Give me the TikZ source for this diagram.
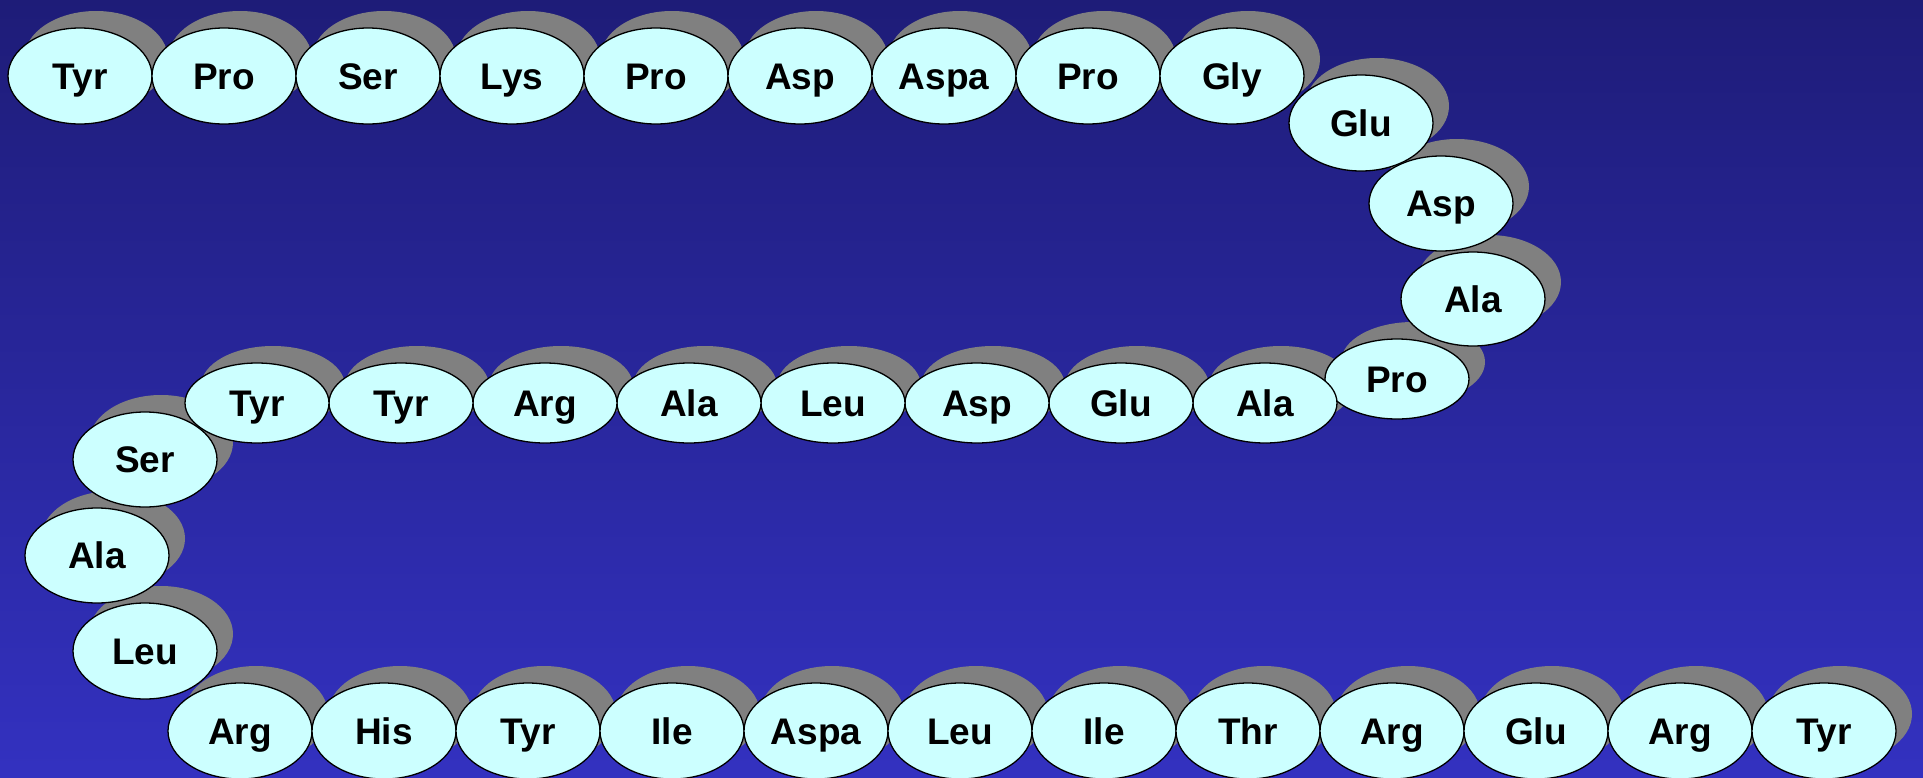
\documentclass[tikz,border=0pt]{standalone}
\usepackage{fontspec}
\setmainfont{Liberation Sans}
\usetikzlibrary{shapes.geometric}
\definecolor{bgtop}{RGB}{30,28,120}
\definecolor{bgbot}{RGB}{51,49,192}
\definecolor{beadfill}{RGB}{204,255,255}
\definecolor{shadowgray}{RGB}{128,128,128}
\tikzset{
  bead/.style={ellipse, draw=black, line width=1.3pt, fill=beadfill,
    minimum width=144pt, inner sep=0pt, outer sep=0pt,
    font=\fontsize{37}{37}\selectfont\bfseries, text height=26.5pt, text depth=0pt},
  beadshadow/.style={ellipse, fill=shadowgray, draw=none,
    minimum width=144pt, inner sep=0pt, outer sep=0pt},
}
\begin{document}
\begin{tikzpicture}[x=1pt,y=-1pt]
\useasboundingbox (0,0) rectangle (1923,777);
\shade[top color=bgtop, bottom color=bgbot] (0,0) rectangle (1923,777);
% bead list: x/y/height/label
\def\beads{80/76/96/Tyr, 224/76/96/Pro, 368/76/96/Ser, 512/76/96/Lys, 656/76/96/Pro, 800/76/96/Asp, 944/76/96/Aspa, 1088/76/96/Pro, 1232/76/96/Gly,
1361/123/96/Glu, 1441/203.5/95/Asp, 1473/299/94/Ala, 1397/379/80/Pro,
1265/403/80/Ala, 1121/403/80/Glu, 977/403/80/Asp, 833/403/80/Leu, 689/403/80/Ala, 545/403/80/Arg, 401/403/80/Tyr, 257/403/80/Tyr,
145/459.5/95/Ser, 97/555.5/95/Ala, 145/651/96/Leu,
240/731/96/Arg, 384/731/96/His, 528/731/96/Tyr, 672/731/96/Ile, 816/731/96/Aspa, 960/731/96/Leu, 1104/731/96/Ile, 1248/731/96/Thr, 1392/731/96/Arg, 1536/731/96/Glu, 1680/731/96/Arg, 1824/731/96/Tyr}
\foreach \x/\y/\h/\t [count=\i] in \beads {
  \node[beadshadow, minimum height=\h pt] (s\i) at (\x+16,\y-17) {};
}
\foreach \x/\y/\h/\t [count=\i] in \beads {
  \node[bead, minimum height=\h pt] (b\i) at (\x,\y) {\t};
}
\end{tikzpicture}
\end{document}
